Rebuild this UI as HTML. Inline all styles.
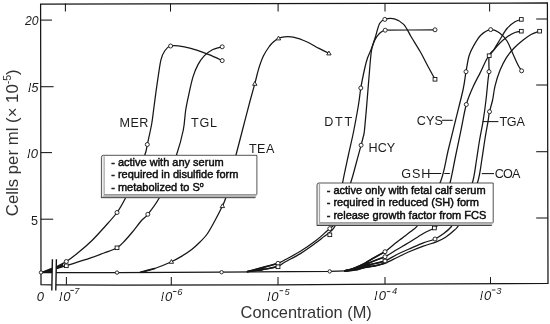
<!DOCTYPE html>
<html><head><meta charset="utf-8"><title>Chart</title>
<style>html,body{margin:0;padding:0;background:#fff}svg{display:block;filter:grayscale(1)}</style></head>
<body>
<svg width="550" height="324" viewBox="0 0 550 324">
<rect width="550" height="324" fill="#fff"/>
<defs><clipPath id="stem"><path d="M2.35 0.3 L3.75 0.3 L5.8 -9.8 L4.35 -9.8 Z"/></clipPath></defs>
<g fill="none" stroke="#161616" stroke-width="1.25" stroke-linejoin="miter">
<path d="M51.8 284.8 L41 284.7 L40.6 4.1 L547.4 3 L548 283.5 L385 284 L280 284.9 L120 285 L56 284.8"/>
</g>
<g fill="none" stroke="#161616" stroke-width="1.05">
<path d="M66.4 277.1 V284.8"/>
<path d="M171.3 277.1 V285.0"/>
<path d="M278.0 277.1 V284.9"/>
<path d="M385.0 277.1 V284.0"/>
<path d="M490.5 277.1 V283.8"/>
<path d="M65.4 3.5 V11.6"/>
<path d="M170.5 3.5 V11.6"/>
<path d="M278.1 3.5 V11.6"/>
<path d="M385.0 3.5 V11.6"/>
<path d="M489.6 3.5 V11.6"/>
<path d="M40.8 20.1 H52.0"/>
<path d="M40.8 86.7 H53.6"/>
<path d="M40.8 152.6 H52.0"/>
<path d="M40.8 219.2 H53.2"/>
<path d="M536.2 19.0 H547.8"/>
<path d="M536.2 85.0 H547.8"/>
<path d="M536.2 151.7 H547.8"/>
<path d="M536.2 218.0 H547.8"/>
</g>
<g fill="none" stroke="#161616" stroke-width="1.25" stroke-linejoin="round">
<path d="M41 272.5 L117 272.6 L221.6 272.2 L330 271.4 L346 270.8"/>
<path d="M41.0 272.5C43.2 271.7 49.8 269.4 54.0 267.6C58.2 265.8 62.3 264.0 66.3 261.5C70.3 259.0 73.7 256.3 78.0 252.8C82.3 249.3 87.5 244.9 92.0 240.5C96.5 236.1 100.8 231.2 105.0 226.5C109.2 221.8 113.6 217.2 117.0 212.5C120.4 207.8 122.5 203.9 125.5 198.0C128.5 192.1 131.8 184.2 135.0 177.0C138.2 169.8 142.8 160.4 144.8 155.0C146.9 149.6 146.2 149.5 147.3 144.5C148.4 139.5 150.4 130.8 151.5 125.0C152.6 119.2 152.8 115.5 153.6 110.0C154.3 104.5 155.2 97.6 156.0 91.7C156.8 85.8 157.7 79.8 158.5 74.4C159.3 69.1 160.0 63.5 161.0 59.6C162.0 55.7 163.1 53.3 164.7 51.0C166.3 48.7 167.3 46.7 170.6 46.0C173.9 45.3 180.0 46.1 184.4 46.8C188.8 47.5 192.7 48.9 196.8 50.2C200.9 51.5 204.8 53.0 209.0 54.7C213.2 56.4 220.0 59.6 222.2 60.6"/>
<path d="M41.0 272.5C43.2 272.0 49.8 270.4 54.0 269.3C58.2 268.2 60.3 267.6 66.3 265.7C72.3 263.8 83.7 260.3 90.0 258.2C96.3 256.1 99.5 254.7 104.0 253.0C108.5 251.3 113.5 249.9 117.0 247.8C120.5 245.7 122.5 243.1 125.0 240.5C127.5 237.9 129.2 235.8 132.0 232.5C134.8 229.2 138.9 223.5 141.5 220.5C144.1 217.5 144.9 218.1 147.8 214.3C150.8 210.6 155.8 204.2 159.2 198.0C162.6 191.8 165.1 184.2 168.0 177.0C170.9 169.8 173.9 162.8 176.5 155.0C179.1 147.2 181.8 137.5 183.3 130.0C184.8 122.5 184.7 116.4 185.7 110.0C186.7 103.6 188.2 97.2 189.4 91.7C190.6 86.2 191.6 81.4 193.0 76.9C194.4 72.4 196.1 68.1 198.0 64.6C199.9 61.1 201.9 58.3 204.2 55.9C206.5 53.5 208.6 51.7 211.6 50.2C214.6 48.7 220.4 47.4 222.2 46.8"/>
<path d="M140.5 272.3C142.9 271.7 149.5 270.3 154.7 268.5C159.8 266.7 166.9 263.8 171.4 261.7C175.9 259.6 178.5 258.1 181.9 256.1C185.3 254.1 188.7 251.8 191.7 249.5C194.7 247.2 197.4 244.6 200.0 242.0C202.6 239.4 204.7 237.6 207.2 234.0C209.7 230.4 212.5 225.2 215.0 220.5C217.5 215.8 220.6 209.8 222.4 206.0C224.2 202.2 224.4 202.3 225.7 198.0C227.0 193.7 228.3 187.2 230.0 180.0C231.7 172.8 233.8 163.7 236.0 155.0C238.2 146.3 240.6 137.2 243.0 128.0C245.4 118.8 248.3 107.4 250.3 100.0C252.3 92.6 253.4 88.8 254.8 83.7C256.2 78.6 257.1 74.1 258.5 69.4C259.9 64.8 261.6 59.7 263.5 55.8C265.4 51.9 267.8 48.5 269.6 46.0C271.5 43.5 273.1 42.3 274.6 41.0C276.1 39.7 276.9 39.0 278.5 38.3C280.1 37.6 281.8 37.0 284.4 36.8C287.0 36.6 290.6 36.5 294.3 37.3C298.0 38.1 302.6 39.9 306.7 41.7C310.8 43.6 315.3 46.5 319.0 48.4C322.7 50.3 327.2 52.5 328.9 53.3"/>
<path d="M247.5 271.6C250.6 270.8 260.9 268.0 266.0 266.6C271.1 265.2 274.8 264.4 278.0 263.3C281.2 262.2 281.3 261.8 285.0 259.8C288.7 257.8 295.2 254.5 300.4 251.3C305.6 248.1 311.6 243.8 316.0 240.5C320.4 237.2 324.4 233.2 326.7 231.2C329.0 229.2 328.4 230.0 329.8 228.6C331.2 227.2 333.5 226.9 335.0 223.0C336.5 219.1 337.7 211.7 339.0 205.0C340.3 198.3 341.1 191.0 342.6 182.8C344.1 174.6 346.3 164.8 348.2 156.0C350.1 147.2 352.2 138.7 353.9 130.0C355.6 121.3 357.5 111.0 358.6 104.0C359.8 97.0 359.8 94.0 360.8 88.0C361.8 82.0 363.7 73.0 364.8 68.0C365.9 63.0 366.4 61.2 367.5 58.0C368.6 54.8 370.1 52.1 371.3 49.0C372.6 45.9 373.7 42.1 375.0 39.6C376.3 37.1 377.8 35.4 379.0 34.0C380.2 32.6 381.4 31.8 382.4 31.2C383.4 30.6 384.7 30.4 385.2 30.2"/>
<path d="M385.2 30.2C393.5 30.1 426.7 29.9 435.0 29.8"/>
<path d="M247.5 271.6C250.6 271.2 260.9 269.9 266.0 269.0C271.1 268.1 274.8 267.5 278.0 266.3C281.2 265.1 281.3 264.1 285.0 262.0C288.7 259.9 295.2 256.8 300.4 253.6C305.6 250.4 312.1 245.6 316.0 242.8C319.9 240.0 321.7 238.3 324.0 236.6C326.3 234.8 328.1 233.9 329.8 232.3C331.6 230.7 332.8 229.9 334.5 227.0C336.2 224.1 337.3 222.4 340.0 215.0C342.7 207.6 348.0 191.3 350.7 182.8C353.4 174.3 354.3 170.3 356.0 164.0C357.7 157.7 359.9 149.7 361.1 145.2C362.3 140.7 362.6 139.5 363.2 137.0C363.8 134.5 363.9 135.9 364.5 130.0C365.1 124.1 366.2 111.5 367.0 101.7C367.8 91.9 368.8 79.5 369.5 71.0C370.2 62.5 370.6 56.0 371.5 50.5C372.4 45.0 373.6 42.8 375.0 38.3C376.4 33.8 378.0 26.6 379.6 23.5C381.2 20.4 382.3 20.2 384.8 19.4C387.3 18.6 391.2 18.1 394.4 18.9C397.5 19.7 400.9 21.5 403.7 24.4C406.5 27.3 408.3 32.0 411.0 36.5C413.7 41.0 417.2 46.5 420.0 51.3C422.8 56.1 425.0 60.8 427.5 65.5C430.0 70.2 433.8 77.0 435.0 79.3"/>
<path d="M345.0 270.8C346.7 270.3 351.7 269.3 355.0 268.0C358.3 266.7 361.7 265.0 365.0 263.2C368.3 261.4 371.7 259.1 375.0 257.2C378.3 255.3 381.7 254.0 385.0 251.7C388.3 249.4 392.0 245.9 395.0 243.5C398.0 241.1 400.0 239.8 403.0 237.5C406.0 235.2 410.5 231.9 413.0 229.8C415.5 227.7 416.0 228.0 418.0 225.0C420.0 222.0 421.2 219.3 425.0 212.0C428.8 204.7 437.0 191.2 440.8 181.0C444.6 170.8 445.6 161.1 448.0 151.0C450.4 140.9 453.0 130.7 455.5 120.5C458.0 110.3 461.2 98.1 463.0 90.0C464.8 81.9 465.0 77.4 466.0 71.7C467.0 66.0 467.8 60.3 469.0 56.0C470.2 51.7 471.5 49.5 473.5 46.0C475.5 42.5 478.1 37.7 481.0 35.0C483.9 32.3 487.7 30.0 490.7 29.6C493.7 29.2 496.3 30.6 499.0 32.5C501.7 34.4 504.7 37.4 507.0 41.0C509.3 44.6 511.2 50.0 513.0 54.0C514.8 58.0 516.6 62.2 518.0 65.0C519.4 67.8 521.0 69.8 521.6 70.8"/>
<path d="M345.0 270.9C346.7 270.5 351.7 269.8 355.0 268.7C358.3 267.6 361.7 266.0 365.0 264.6C368.3 263.2 371.7 261.8 375.0 260.5C378.3 259.2 381.3 258.5 385.0 256.7C388.7 254.9 393.1 251.8 397.0 249.5C400.9 247.2 404.1 245.5 408.5 242.8C412.9 240.1 419.0 236.0 423.3 233.5C427.6 231.0 431.9 229.6 434.4 228.0C436.8 226.4 436.4 227.8 438.0 224.0C439.6 220.2 441.9 212.2 444.0 205.0C446.1 197.8 448.6 189.2 450.5 181.0C452.4 172.8 453.9 164.0 455.7 155.5C457.4 147.0 459.2 138.5 461.0 130.0C462.8 121.5 464.3 111.7 466.3 104.5C468.3 97.3 470.7 92.2 473.0 87.0C475.3 81.8 477.8 77.5 480.0 73.1C482.2 68.7 484.5 63.4 486.0 60.5C487.5 57.6 487.0 58.5 489.2 55.7C491.4 53.0 496.0 47.1 499.0 44.0C502.0 40.9 504.3 38.9 507.0 37.0C509.7 35.1 512.6 33.5 515.0 32.5C517.4 31.5 520.2 31.4 521.3 31.2"/>
<path d="M345.0 271.0C346.7 270.7 351.7 270.2 355.0 269.4C358.3 268.6 361.7 267.0 365.0 266.0C368.3 265.0 371.7 264.3 375.0 263.5C378.3 262.7 381.3 262.5 385.0 261.0C388.7 259.5 393.1 256.4 397.0 254.5C400.9 252.6 404.1 251.2 408.5 249.3C412.9 247.4 418.9 244.5 423.3 242.8C427.7 241.1 431.6 240.6 435.0 239.0C438.4 237.4 441.0 235.5 443.7 233.5C446.4 231.5 448.9 229.6 451.0 227.0C453.1 224.4 453.5 222.8 456.0 218.0C458.5 213.2 463.2 204.2 466.0 198.0C468.8 191.8 471.1 187.3 472.9 181.0C474.6 174.7 475.4 166.8 476.5 160.0C477.6 153.2 478.5 146.4 479.6 140.0C480.7 133.6 481.9 128.3 483.0 121.6C484.1 114.9 485.2 106.9 486.0 100.0C486.8 93.1 487.5 84.9 488.0 80.2C488.5 75.5 488.8 75.8 489.0 71.7C489.2 67.6 488.4 59.4 489.2 55.7C490.0 52.0 492.2 52.2 494.0 49.5C495.8 46.8 497.8 43.0 500.0 39.5C502.2 36.0 504.5 31.4 507.0 28.5C509.5 25.6 512.6 23.3 515.0 21.8C517.4 20.3 520.2 19.8 521.3 19.4"/>
<path d="M345.0 271.1C346.7 270.9 351.7 270.6 355.0 270.0C358.3 269.4 361.7 268.0 365.0 267.3C368.3 266.6 371.7 266.5 375.0 265.8C378.3 265.1 381.3 264.6 385.0 263.2C388.7 261.8 393.1 259.4 397.0 257.5C400.9 255.6 404.1 253.9 408.5 252.0C412.9 250.1 418.7 247.8 423.3 246.1C427.9 244.4 432.6 243.4 436.3 241.9C440.0 240.4 442.5 239.2 445.6 237.2C448.7 235.2 452.5 232.0 454.8 229.8C457.1 227.6 457.0 228.5 459.4 224.0C461.8 219.5 465.9 210.2 469.0 203.0C472.1 195.8 475.9 188.2 478.0 181.0C480.1 173.8 480.7 166.8 481.8 160.0C482.9 153.2 483.8 146.4 484.8 140.0C485.8 133.6 487.2 126.3 488.0 121.6C488.8 116.9 488.7 115.3 489.5 111.7C490.3 108.1 491.7 104.2 492.6 100.0C493.5 95.8 493.8 91.2 495.0 86.2C496.2 81.2 498.2 74.8 500.1 70.1C502.0 65.4 503.8 61.8 506.1 58.1C508.4 54.4 511.2 51.0 514.1 48.0C517.0 45.0 520.4 42.2 523.2 40.0C526.0 37.8 528.3 36.0 531.0 34.5C533.7 33.0 538.2 31.8 539.6 31.2"/>
</g>
<g fill="none" stroke="#161616" stroke-width="1.7" stroke-linecap="round">
<path d="M345.0 270.8C346.7 270.3 351.7 269.3 355.0 268.0C358.3 266.7 361.7 265.0 365.0 263.2C368.3 261.4 371.7 259.1 375.0 257.2C378.3 255.3 383.3 252.6 385.0 251.7"/>
<path d="M345.0 270.9C346.7 270.5 351.7 269.8 355.0 268.7C358.3 267.6 361.7 266.0 365.0 264.6C368.3 263.2 371.7 261.8 375.0 260.5C378.3 259.2 383.3 257.3 385.0 256.7"/>
<path d="M345.0 271.0C346.7 270.7 351.7 270.2 355.0 269.4C358.3 268.6 361.7 267.0 365.0 266.0C368.3 265.0 371.7 264.3 375.0 263.5C378.3 262.7 383.3 261.4 385.0 261.0"/>
<path d="M345.0 271.1C346.7 270.9 351.7 270.6 355.0 270.0C358.3 269.4 361.7 268.0 365.0 267.3C368.3 266.6 371.7 266.5 375.0 265.8C378.3 265.1 383.3 263.6 385.0 263.2"/>
<path d="M247.5 271.6C250.6 270.8 260.9 268.0 266.0 266.6C271.1 265.2 276.0 263.9 278.0 263.3"/>
<path d="M247.5 271.6C250.6 271.2 260.9 269.9 266.0 269.0C271.1 268.1 276.0 266.8 278.0 266.3"/>
<path d="M140.5 272.3C142.9 271.7 152.3 269.1 154.7 268.5"/>
</g>
<g fill="#161616">
<path d="M42 272.5 L52 267.9 L52 272.9 Z"/>
<path d="M346 270.8 L368 261.6 L371 265.5 L368 267.5 Z"/>
<path d="M249 271.5 L262 267.6 L266 269 L262 270.8 Z"/>
<path d="M56.4 266.4 L63 263.4 L63.5 266.4 L56.4 269 Z"/>
</g>
<path d="M52.4 259.3 L56.4 259.3 L55.8 290.6 L51.8 290.6 Z" fill="#fff"/>
<g fill="none" stroke="#161616" stroke-width="1.4">
<path d="M52.4 259.3 L51.8 290.6 M56.4 259.3 L55.8 290.6"/>
</g>
<g fill="none" stroke="#161616" stroke-width="1.05">
<path d="M442 120.3 H452.8"/>
<path d="M482.6 121.6 H498.4"/>
<path d="M429.2 173.5 H441.2 M444.3 173.5 H449.8"/>
<path d="M481.8 173.6 H494"/>
</g>
<g fill="#fff" stroke="#161616" stroke-width="0.9">
<circle cx="66.3" cy="261.5" r="2"/>
<circle cx="117.0" cy="212.5" r="2"/>
<circle cx="147.3" cy="144.5" r="2"/>
<circle cx="170.6" cy="46.0" r="2"/>
<circle cx="222.2" cy="60.6" r="2"/>
<circle cx="147.8" cy="214.3" r="2"/>
<circle cx="222.2" cy="46.8" r="2"/>
<circle cx="278.0" cy="263.3" r="2"/>
<circle cx="329.8" cy="228.6" r="2"/>
<circle cx="360.8" cy="88.0" r="2"/>
<circle cx="385.2" cy="30.2" r="2"/>
<circle cx="435.0" cy="29.8" r="2"/>
<circle cx="385.0" cy="251.7" r="2"/>
<circle cx="466.0" cy="71.7" r="2"/>
<circle cx="490.7" cy="29.6" r="2"/>
<circle cx="521.6" cy="70.8" r="2"/>
<circle cx="385.0" cy="256.7" r="2"/>
<circle cx="466.3" cy="104.5" r="2"/>
<circle cx="435.0" cy="239.0" r="2"/>
<circle cx="489.0" cy="71.7" r="2"/>
<circle cx="489.5" cy="111.7" r="2"/>
<circle cx="384.8" cy="19.4" r="2"/>
<circle cx="361.1" cy="145.2" r="2"/>
<circle cx="41.0" cy="272.5" r="1.7"/>
<circle cx="117.0" cy="272.6" r="1.7"/>
<circle cx="221.6" cy="272.2" r="1.7"/>
<circle cx="329.7" cy="271.4" r="1.7"/>
<rect x="64.4" y="264.0" width="3.8" height="3.6"/>
<rect x="115.1" y="246.0" width="3.8" height="3.6"/>
<rect x="276.1" y="265.0" width="3.8" height="3.6"/>
<rect x="327.9" y="233.0" width="3.8" height="3.6"/>
<rect x="433.1" y="77.5" width="3.8" height="3.6"/>
<rect x="383.1" y="259.2" width="3.8" height="3.6"/>
<rect x="432.5" y="226.2" width="3.8" height="3.6"/>
<rect x="487.3" y="53.9" width="3.8" height="3.6"/>
<rect x="519.4" y="29.4" width="3.8" height="3.6"/>
<rect x="519.4" y="17.6" width="3.8" height="3.6"/>
<rect x="537.7" y="29.4" width="3.8" height="3.6"/>
<path d="M171.4 259.5 L173.6 263.3 L169.2 263.3 Z"/>
<path d="M222.4 203.8 L224.6 207.6 L220.2 207.6 Z"/>
<path d="M254.8 81.5 L257.0 85.3 L252.6 85.3 Z"/>
<path d="M278.5 36.1 L280.7 39.9 L276.3 39.9 Z"/>
<path d="M328.9 51.1 L331.1 54.9 L326.7 54.9 Z"/>
</g>
<path d="M101.4 157.3 Q101.4 155.3 103.4 155.3 L256.9 155.3 L256.9 194.5 L255.4 198.0 L101.4 198.0 Z" fill="#ececec"/>
<path d="M104.2 194.5 L256.9 194.5 L255.4 198.0 L101.4 198.0 Z" fill="#b4b4b4"/>
<path d="M101.4 197.7 L255.4 197.7" stroke="#444" stroke-width="1" fill="none"/>
<rect x="104.2" y="155.3" width="152.7" height="39.2" fill="#fff"/>
<path d="M101.4 198.0 L101.4 157.3 Q101.4 155.3 103.4 155.3 L256.9 155.3 L256.9 194.5" fill="none" stroke="#2a2a2a" stroke-width="0.8"/>
<path d="M104.2 156.3 L104.2 194.5 L256.9 194.5" fill="none" stroke="#777" stroke-width="0.7"/>
<path d="M317.0 185.0 Q317.0 183.0 319.0 183.0 L493.2 183.0 L493.2 222.6 L491.7 225.8 L317.0 225.8 Z" fill="#ececec"/>
<path d="M319.6 222.6 L493.2 222.6 L491.7 225.8 L317.0 225.8 Z" fill="#b4b4b4"/>
<path d="M317.0 225.5 L491.7 225.5" stroke="#444" stroke-width="1" fill="none"/>
<rect x="319.6" y="183.0" width="173.6" height="39.6" fill="#fff"/>
<path d="M317.0 225.8 L317.0 185.0 Q317.0 183.0 319.0 183.0 L493.2 183.0 L493.2 222.6" fill="none" stroke="#2a2a2a" stroke-width="0.8"/>
<path d="M319.6 184.0 L319.6 222.6 L493.2 222.6" fill="none" stroke="#777" stroke-width="0.7"/>
<g font-family="Liberation Sans, sans-serif" fill="#0c0c0c">
<g font-size="11" stroke="#0c0c0c" stroke-width="0.45">
<text x="111.2" y="165.7">- active with any serum</text>
<text x="111.2" y="178.2">- required in disulfide form</text>
<text x="111.2" y="190.7">- metabolized to S<tspan font-size="7" dy="-4">o</tspan></text>
<text x="326.7" y="193.6">- active only with fetal calf serum</text>
<text x="326.7" y="206.1">- required in reduced (SH) form</text>
<text x="326.7" y="218.7">- release growth factor from FCS</text>
</g>
<g font-size="12.6" fill="#1c1c1c">
<text x="119.6" y="126.6" letter-spacing="0.35">MER</text>
<text x="191.0" y="126.6" letter-spacing="0.75">TGL</text>
<text x="248.9" y="152.9" letter-spacing="0.45">TEA</text>
<text x="324.2" y="126.0" letter-spacing="1.70">DTT</text>
<text x="368.6" y="152.0" letter-spacing="0.00">HCY</text>
<text x="416.8" y="124.7" letter-spacing="0.05">CYS</text>
<text x="499.4" y="125.6" letter-spacing="-0.25">TGA</text>
<text x="401.3" y="177.9" letter-spacing="0.90">GSH</text>
<text x="494.7" y="178.2" letter-spacing="-0.75">COA</text>
</g>
<g font-size="13" font-style="italic" fill="#1c1c1c">
<text x="25" y="24.7" font-size="12.2">20</text>
<g transform="translate(25.8 92.2)"><text clip-path="url(#stem)" x="0" y="0">1</text></g><text x="31.3" y="92.2">5</text>
<g transform="translate(25 157.9)"><text clip-path="url(#stem)" x="0" y="0">1</text></g><text x="30.7" y="157.9">0</text>
<text x="36.8" y="300.7">0</text>
<g transform="translate(56.9 300.7)"><text clip-path="url(#stem)" x="0" y="0">1</text></g><text x="63.2" y="300.7">0</text>
<path d="M70.3 290.4 h3.6" stroke="#1c1c1c" stroke-width="0.9"/>
<text x="74.2" y="294.2" font-size="9.3">7</text>
<g transform="translate(158.6 301.3)"><text clip-path="url(#stem)" x="0" y="0">1</text></g><text x="164.9" y="301.3">0</text>
<path d="M172.9 291.5 h3.6" stroke="#1c1c1c" stroke-width="0.9"/>
<text x="177.3" y="295.3" font-size="9.3">6</text>
<g transform="translate(265.0 300.7)"><text clip-path="url(#stem)" x="0" y="0">1</text></g><text x="271.3" y="300.7">0</text>
<path d="M279.5 290.7 h3.6" stroke="#1c1c1c" stroke-width="0.9"/>
<text x="284.4" y="294.8" font-size="9.3">5</text>
<g transform="translate(372.0 300.4)"><text clip-path="url(#stem)" x="0" y="0">1</text></g><text x="378.8" y="300.4">0</text>
<path d="M386.8 291.6 h3.6" stroke="#1c1c1c" stroke-width="0.9"/>
<text x="391.9" y="293.9" font-size="9.3">4</text>
<g transform="translate(477.6 300.2)"><text clip-path="url(#stem)" x="0" y="0">1</text></g><text x="483.9" y="300.2">0</text>
<path d="M491.8 290.0 h3.6" stroke="#1c1c1c" stroke-width="0.9"/>
<text x="496.2" y="293.7" font-size="9.3">3</text>
</g>
<text x="30.9" y="224.7" font-size="12.6" fill="#1c1c1c">5</text>
<text x="240.6" y="318.3" font-size="16.4" fill="#333">Concentration (M)</text>
<text transform="translate(18.4 216.2) rotate(-90)" font-size="16.8" fill="#333">Cells per ml (× 10<tspan font-size="10.5" dy="-7">-5</tspan><tspan dy="7">)</tspan></text>
</g>
</svg>
</body></html>
